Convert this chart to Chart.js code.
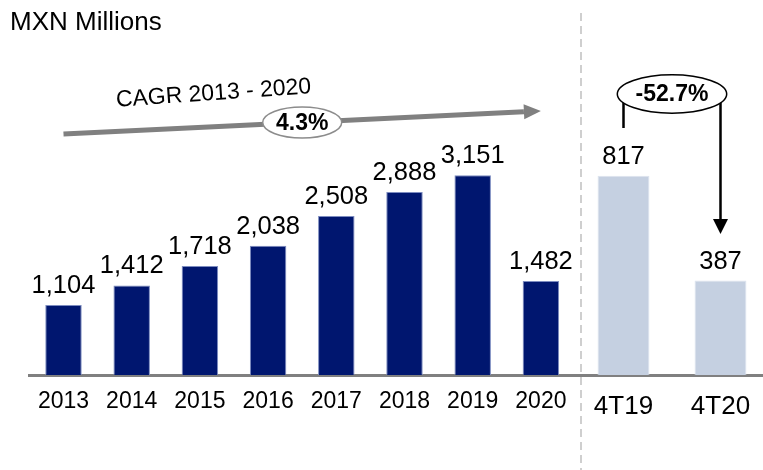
<!DOCTYPE html>
<html>
<head>
<meta charset="utf-8">
<script src="https://cdn.jsdelivr.net/npm/chart.js@4/dist/chart.umd.min.js"></script>
<style>
  html, body { margin: 0; padding: 0; background: #fff; overflow: hidden; width: 763px; height: 470px; }
  #annual { position: absolute; left: 0; top: 0; }
  #quarter { position: absolute; left: 570px; top: 0; }
</style>
</head>
<body>
<canvas id="annual" width="580" height="470"></canvas>
<canvas id="quarter" width="199" height="470"></canvas>
<script>
// Annual figures, MXN millions
const years = ['2013', '2014', '2015', '2016', '2017', '2018', '2019', '2020'];
const annualValues = [1104, 1412, 1718, 2038, 2508, 2888, 3151, 1482];

// Fourth-quarter comparison
const quarters = ['4T19', '4T20'];
const quarterValues = [817, 387];

// Annotation texts
const unitLabel = 'MXN Millions';
const cagrLabel = 'CAGR 2013 - 2020';
const cagrValue = '4.3%';
const changeValue = '-52.7%';

const FONT = "'Liberation Sans', Arial, Helvetica, sans-serif";
const NAVY = '#00166f';
const LIGHT = '#c5d0e1';
const GREY = '#808080';

// Value printed above each bar
const valueLabels = {
  id: 'valueLabels',
  afterDatasetsDraw(chart, args, opts) {
    const { ctx } = chart;
    const values = chart.data.datasets[0].data;
    ctx.save();
    ctx.font = opts.size + 'px ' + FONT;
    ctx.fillStyle = '#000';
    ctx.textAlign = 'center';
    ctx.textBaseline = 'alphabetic';
    chart.getDatasetMeta(0).data.forEach((bar, i) => {
      ctx.fillText(values[i].toLocaleString('en-US'), bar.x, bar.y - opts.gap);
    });
    ctx.restore();
  }
};

function ellipseBadge(ctx, cx, cy, rx, ry, stroke, text, size) {
  ctx.beginPath();
  ctx.ellipse(cx, cy, rx, ry, 0, 0, Math.PI * 2);
  ctx.fillStyle = '#fff';
  ctx.fill();
  ctx.lineWidth = 1.5;
  ctx.strokeStyle = stroke;
  ctx.stroke();
  ctx.fillStyle = '#000';
  ctx.font = 'bold ' + size + 'px ' + FONT;
  ctx.textAlign = 'center';
  ctx.textBaseline = 'middle';
  ctx.fillText(text, cx, cy + 1);
}

// Unit caption and the CAGR growth arrow spanning first to last year
const annualNotes = {
  id: 'annualNotes',
  afterDraw(chart) {
    const { ctx, chartArea } = chart;
    const xs = chart.scales.x;
    ctx.save();
    ctx.fillStyle = '#000';
    ctx.font = '26px ' + FONT;
    ctx.textAlign = 'left';
    ctx.textBaseline = 'alphabetic';
    ctx.fillText(unitLabel, 10, 30);

    const x0 = xs.getPixelForValue(0);
    const x1 = xs.getPixelForValue(years.length - 1);
    const y0 = chartArea.top + 114;
    const y1 = chartArea.top + 91;
    const ang = Math.atan2(y1 - y0, x1 - x0);
    const headLen = 17, headHalf = 7.5;
    const bx = x1 - headLen * Math.cos(ang), by = y1 - headLen * Math.sin(ang);
    ctx.strokeStyle = GREY;
    ctx.lineWidth = 5;
    ctx.beginPath();
    ctx.moveTo(x0, y0);
    ctx.lineTo(bx, by);
    ctx.stroke();
    ctx.fillStyle = GREY;
    ctx.beginPath();
    ctx.moveTo(x1, y1);
    ctx.lineTo(bx + headHalf * Math.sin(ang), by - headHalf * Math.cos(ang));
    ctx.lineTo(bx - headHalf * Math.sin(ang), by + headHalf * Math.cos(ang));
    ctx.closePath();
    ctx.fill();

    ellipseBadge(ctx, (x0 + x1) / 2, (y0 + y1) / 2, 39.5, 15.5, '#8c8c8c', cagrValue, 23);

    ctx.save();
    ctx.translate(214, 100);
    ctx.rotate(-4 * Math.PI / 180);
    ctx.fillStyle = '#000';
    ctx.font = '23px ' + FONT;
    ctx.textAlign = 'center';
    ctx.textBaseline = 'alphabetic';
    ctx.fillText(cagrLabel, 0, 0);
    ctx.restore();
    ctx.restore();
  }
};

// Dashed separator and the quarter-over-quarter change bracket
const quarterNotes = {
  id: 'quarterNotes',
  beforeDatasetsDraw(chart) {
    const { ctx } = chart;
    ctx.save();
    ctx.strokeStyle = '#c0c0c0';
    ctx.lineWidth = 1.5;
    ctx.setLineDash([8, 5]);
    ctx.beginPath();
    ctx.moveTo(11, 13);
    ctx.lineTo(11, chart.height);
    ctx.stroke();
    ctx.restore();
  },
  afterDraw(chart) {
    const { ctx } = chart;
    const bars = chart.getDatasetMeta(0).data;
    const xa = bars[0].x, xb = bars[1].x;
    const cx = (xa + xb) / 2, cy = 94;
    const tip = 234, headLen = 15, headHalf = 7.5;
    ctx.save();
    ctx.strokeStyle = '#000';
    ctx.lineWidth = 2.5;
    ctx.beginPath();
    ctx.moveTo(xa, cy);
    ctx.lineTo(xa, 128);
    ctx.moveTo(xb, cy);
    ctx.lineTo(xb, tip - headLen);
    ctx.stroke();
    ctx.fillStyle = '#000';
    ctx.beginPath();
    ctx.moveTo(xb, tip);
    ctx.lineTo(xb - headHalf, tip - headLen);
    ctx.lineTo(xb + headHalf, tip - headLen);
    ctx.closePath();
    ctx.fill();
    ellipseBadge(ctx, cx, cy, 54.7, 19.2, '#000', changeValue, 23);
    ctx.restore();
  }
};

function barChart(canvas, labels, values, color, edge, yMax, padding, tickSize, tickPad, extra) {
  return new Chart(canvas, {
    type: 'bar',
    data: {
      labels: labels,
      datasets: [{
        data: values,
        backgroundColor: color,
        borderColor: edge,
        borderWidth: 1,
        barPercentage: 0.535,
        categoryPercentage: 1
      }]
    },
    options: {
      responsive: false,
      animation: false,
      events: [],
      layout: { padding: padding },
      plugins: {
        legend: { display: false },
        tooltip: { enabled: false },
        valueLabels: { size: 25.5, gap: 12 }
      },
      scales: {
        x: {
          grid: { display: false },
          border: { display: true, color: GREY, width: 3 },
          ticks: { color: '#000', font: { family: FONT, size: tickSize }, padding: tickPad, maxRotation: 0 },
          afterFit(scale) { scale.height = 95; }
        },
        y: { display: false, min: 0, max: yMax }
      }
    },
    plugins: [valueLabels, extra]
  });
}

barChart(document.getElementById('annual'), years, annualValues, NAVY, '#7d8cc0', 5600,
  { left: 29.4, right: 5, top: 20, bottom: 0 }, 23, 5, annualNotes);

barChart(document.getElementById('quarter'), quarters, quarterValues, LIGHT, '#dde3ee', 1455,
  { left: 5, right: 0, top: 20, bottom: 0 }, 26, 8, quarterNotes);
</script>
</body>
</html>
